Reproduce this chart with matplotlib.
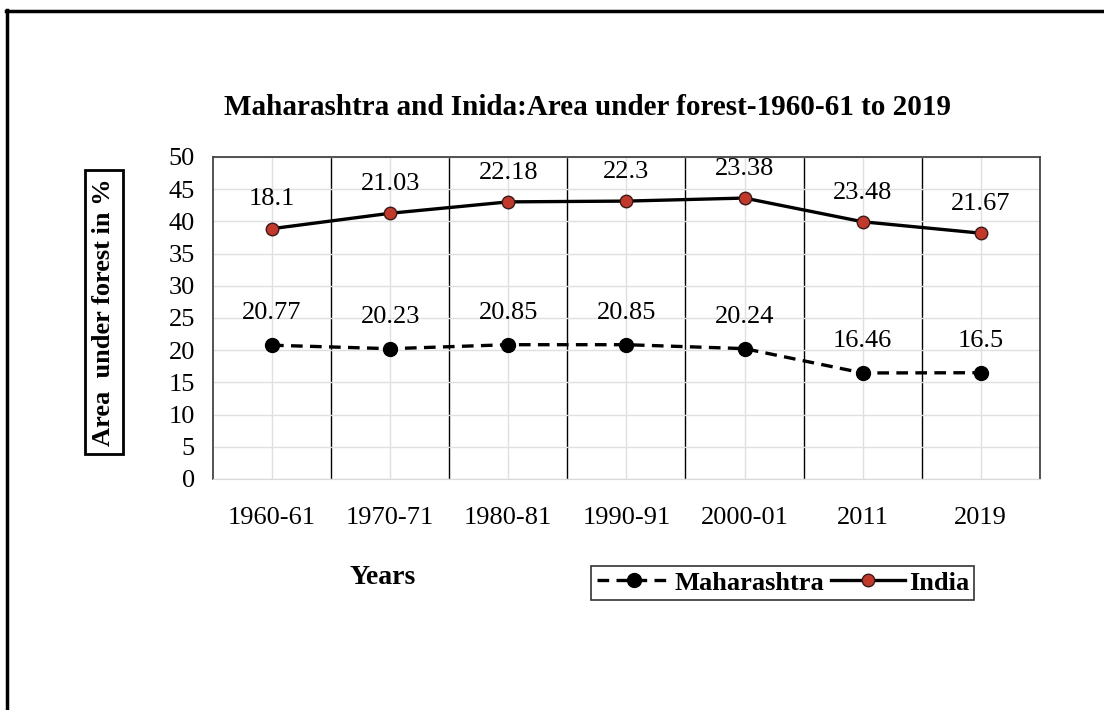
import numpy as np
import matplotlib
matplotlib.use('Agg')
import matplotlib.pyplot as plt
from matplotlib.lines import Line2D

plt.rcParams['font.family'] = ['Liberation Serif', 'DejaVu Serif']

# data
years = ['1960-61', '1970-71', '1980-81', '1990-91', '2000-01', '2011', '2019']
maharashtra = [20.77, 20.23, 20.85, 20.85, 20.24, 16.46, 16.5]
india = [18.1, 21.03, 22.18, 22.3, 23.38, 23.48, 21.67]

# stacked line chart: India plotted on top of Maharashtra
india_stacked = np.array(maharashtra) + np.array(india)
x = np.arange(len(years))

fig = plt.figure(figsize=(11.04, 7.10), dpi=100)
ax = fig.add_axes([0.1929, 0.3254, 0.749, 0.4535])

ax.plot(x, maharashtra, color='black', lw=2.4, ls=(0, (3.5, 2.2)),
        marker='o', ms=10, mfc='black', mec='black', label='Maharashtra', zorder=4)
ax.plot(x, india_stacked, color='black', lw=2.4, marker='o', ms=9,
        mfc='#c0392b', mec='#3a1a1a', mew=1, label='India', zorder=4)

for xi, yv, lab in zip(x, maharashtra, maharashtra):
    ax.annotate(f'{lab:g}', (xi, yv), xytext=(0, 23), textcoords='offset points',
                ha='center', va='center', fontsize=19)
for xi, yv, lab in zip(x, india_stacked, india):
    ax.annotate(f'{lab:g}', (xi, yv), xytext=(0, 21), textcoords='offset points',
                ha='center', va='center', fontsize=19)

ax.set_xlim(-0.5, len(years) - 0.5)
ax.set_ylim(0, 50)
ax.set_yticks(np.arange(0, 51, 5))
ax.set_xticks(x)
ax.set_xticklabels(years)
ax.tick_params(axis='both', length=0, labelsize=19)
ax.tick_params(axis='x', pad=20)
ax.tick_params(axis='y', pad=13)

# light grid plus black category separators
ax.grid(True, color='#e0e0e0', lw=1, zorder=0)
for b in np.arange(0.5, len(years) - 0.5, 1):
    ax.axvline(b, color='black', lw=1, zorder=1)
for s in ['left', 'right', 'top']:
    ax.spines[s].set_color('#444444')
    ax.spines[s].set_linewidth(1.3)
ax.spines['bottom'].set_color('#d9d9d9')

fig.text(0.532, 0.849, 'Maharashtra and Inida:Area under forest-1960-61 to 2019',
         ha='center', va='center', fontsize=21, fontweight='bold')

fig.text(0.0942, 0.5606, 'Area  under forest in %', rotation=90, ha='center', va='center',
         fontsize=19, fontweight='bold',
         bbox=dict(boxstyle='square,pad=0.3', fc='white', ec='black', lw=2))

fig.text(0.347, 0.187, 'Years', ha='center', va='center', fontsize=20, fontweight='bold')

handles = [Line2D([], [], color='black', lw=2.4, ls=(0, (3.5, 2.2)), marker='o', ms=10,
                  mfc='black', mec='black'),
           Line2D([], [], color='black', lw=2.4, marker='o', ms=9,
                  mfc='#c0392b', mec='#3a1a1a', mew=1)]
leg = fig.legend(handles, ['Maharashtra', 'India'], loc='center', bbox_to_anchor=(0.709, 0.179),
                 ncol=2, fancybox=False, edgecolor='black', handlelength=2.8,
                 handletextpad=0.15, columnspacing=0.25, borderpad=0.2,
                 borderaxespad=0, prop={'weight': 'bold', 'size': 19})
leg.get_frame().set_linewidth(1.2)

# outer frame (top and left edges visible)
fig.add_artist(Line2D([0.005, 1.0], [0.985, 0.985], color='black', lw=2.5,
                      transform=fig.transFigure))
fig.add_artist(Line2D([0.006, 0.006], [0.0, 0.986], color='black', lw=2.5,
                      transform=fig.transFigure))

fig.savefig('out.png', dpi=100)
